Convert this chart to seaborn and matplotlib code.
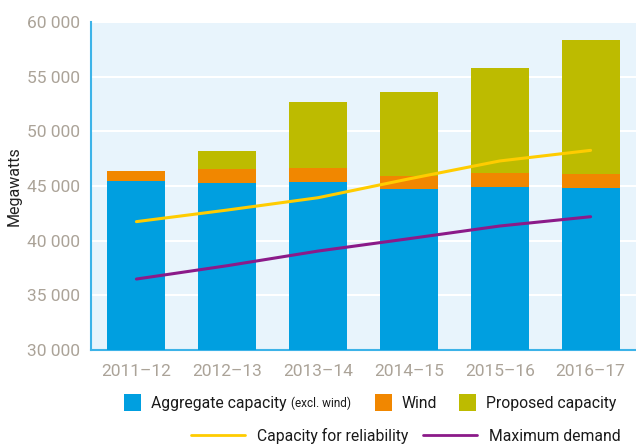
import numpy as np
import pandas as pd
import matplotlib
matplotlib.use("Agg")
import matplotlib.pyplot as plt
from matplotlib.patches import Rectangle
from matplotlib.lines import Line2D
import seaborn as sns

years = ["2011–12", "2012–13", "2013–14", "2014–15", "2015–16", "2016–17"]
aggregate = [45450, 45280, 45370, 44730, 44910, 44820]
wind = [920, 1280, 1280, 1190, 1280, 1280]
proposed = [30, 1640, 6030, 7680, 9600, 12250]
reliability = [41740, 42800, 43930, 45650, 47290, 48260]
max_demand = [36490, 37710, 39050, 40180, 41340, 42190]

C_AGG = "#009FE0"
C_WIND = "#F18700"
C_PROP = "#BDBB00"
C_REL = "#FFCC00"
C_DEM = "#8B1A89"
C_BG = "#E8F4FC"
C_TICK = "#ABA398"
C_SPINE = "#3DB3E8"

sns.set_theme(style="white")
plt.rcParams["font.family"] = ["Roboto", "DejaVu Sans"]

df = pd.DataFrame({"year": years, "aggregate": aggregate, "wind": wind,
                   "proposed": proposed})
df["wind_top"] = df["aggregate"] + df["wind"]
df["total"] = df["wind_top"] + df["proposed"]

fig = plt.figure(figsize=(6.36, 4.44), dpi=100)
ax = fig.add_axes([91 / 636, 94 / 444, 545 / 636, 328 / 444])
ax.set_facecolor(C_BG)

for col, color in [("total", C_PROP), ("wind_top", C_WIND), ("aggregate", C_AGG)]:
    sns.barplot(data=df, x="year", y=col, color=color, width=0.64,
                saturation=1, linewidth=0, ax=ax, zorder=3)

x = np.arange(len(years))
sns.lineplot(x=x, y=reliability, color=C_REL, linewidth=2.2, ax=ax, zorder=4)
sns.lineplot(x=x, y=max_demand, color=C_DEM, linewidth=2.2, ax=ax, zorder=4)

ax.set_ylim(30000, 60000)
ax.set_xlim(-0.5, 5.5)
ax.set_yticks(range(30000, 60001, 5000))
ax.set_yticklabels([f"{v:,}".replace(",", " ") for v in range(30000, 60001, 5000)])
ax.yaxis.grid(True, color="white", linewidth=1.5, zorder=1)
ax.set_axisbelow(True)
ax.tick_params(axis="both", length=0, labelsize=12.5, labelcolor=C_TICK, pad=8)
ax.tick_params(axis="x", pad=10)
ax.set_xlabel("")
ax.set_ylabel("Megawatts", fontsize=11.5, color="#222222")
ax.yaxis.set_label_coords(-69 / 545, 0.5)
for side in ["top", "right"]:
    ax.spines[side].set_visible(False)
for side in ["left", "bottom"]:
    ax.spines[side].set_color(C_SPINE)
    ax.spines[side].set_linewidth(1.5)

# legend, row 1: patches
def px(xp, yp):
    return xp / 636, 1 - yp / 444

for x0, color, label in [(124, C_AGG, "Aggregate capacity"), (375, C_WIND, "Wind"),
                         (459, C_PROP, "Proposed capacity")]:
    fx, fy = px(x0, 411)
    fig.add_artist(Rectangle((fx, fy), 17 / 636, 17 / 444, transform=fig.transFigure,
                             facecolor=color, edgecolor="none"))
    tx, ty = px(x0 + 27, 403)
    t = fig.text(tx, ty, label, fontsize=11.3, color="#1a1a1a", va="center", ha="left")
    if label.startswith("Aggregate"):
        fig.canvas.draw()
        bb = t.get_window_extent()
        fig.text(bb.x1 / 636 + 4 / 636, ty, "(excl. wind)", fontsize=8.5,
                 color="#1a1a1a", va="center", ha="left")

# legend, row 2: lines
for x0, color, label in [(191, C_REL, "Capacity for reliability"),
                         (423, C_DEM, "Maximum demand")]:
    fx0, fy = px(x0, 435)
    fx1, _ = px(x0 + 54, 435)
    fig.add_artist(Line2D([fx0, fx1], [fy, fy], transform=fig.transFigure,
                          color=color, linewidth=2))
    tx, ty = px(x0 + 66, 436)
    fig.text(tx, ty, label, fontsize=11.3, color="#1a1a1a", va="center", ha="left")

fig.savefig("out.png", dpi=100)
